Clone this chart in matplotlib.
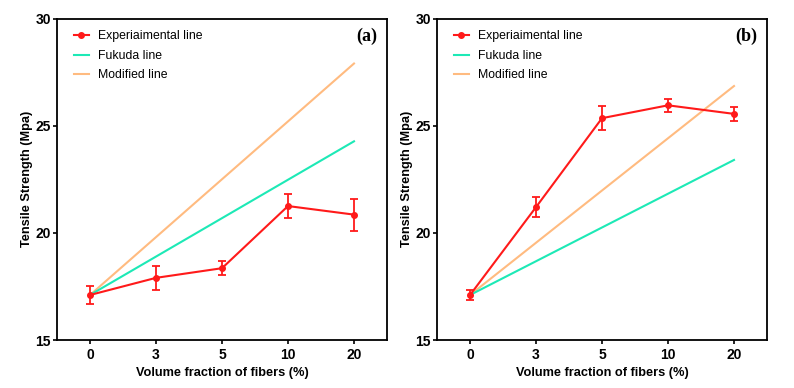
import matplotlib
matplotlib.use("Agg")
import matplotlib.pyplot as plt
from matplotlib.lines import Line2D
import numpy as np

categories = ["0", "3", "5", "10", "20"]

exp_a = [17.1, 17.9, 18.35, 21.25, 20.85]
err_a = [0.4, 0.55, 0.33, 0.55, 0.75]
fukuda_a = [17.1, 24.27]
modified_a = [17.1, 27.9]

exp_b = [17.1, 21.2, 25.35, 25.95, 25.55]
err_b = [0.22, 0.47, 0.57, 0.3, 0.34]
fukuda_b = [17.1, 23.4]
modified_b = [17.1, 26.85]

panel_labels = ["(a)", "(b)"]

RED = "#ff1a1a"
GREEN = "#1de9b6"
ORANGE = "#ffbb80"

plt.rcParams['font.family'] = ['Liberation Sans', 'DejaVu Sans']

fig = plt.figure(figsize=(7.94, 3.88), dpi=100)
axes = [fig.add_axes([0.0718, 0.1237, 0.4156, 0.8286]),
        fig.add_axes([0.5504, 0.1237, 0.4156, 0.8286])]

data = [(exp_a, err_a, fukuda_a, modified_a), (exp_b, err_b, fukuda_b, modified_b)]
x = np.arange(len(categories))
for ax, (exp, err, fk, md), lab in zip(axes, data, panel_labels):
    ends = [x[0], x[-1]]
    ax.plot(ends, md, color=ORANGE, lw=1.5, zorder=2)
    ax.plot(ends, fk, color=GREEN, lw=1.5, zorder=2)
    ax.errorbar(x, exp, yerr=err, color=RED, lw=1.5, marker="o", ms=4,
                capsize=3, capthick=1.3, elinewidth=1.3, zorder=3)
    ax.set_xlim(-0.5, 4.5)
    ax.set_ylim(15, 30)
    ax.set_xticks(x)
    ax.set_xticklabels(categories)
    ax.set_yticks([15, 20, 25, 30])
    for t in ax.get_xticklabels() + ax.get_yticklabels():
        t.set_fontweight("bold")
        t.set_fontsize(10)
    ax.tick_params(direction="out", length=3, width=1.2, pad=3)
    ax.tick_params(axis="y", pad=1.5)
    for s in ax.spines.values():
        s.set_linewidth(1.3)
    ax.set_xlabel("Volume fraction of fibers (%)", fontsize=9.2, fontweight="bold", labelpad=3)
    ax.set_ylabel("Tensile Strength (Mpa)", fontsize=9.2, fontweight="bold")
    ax.yaxis.set_label_coords(-0.072, 0.5)
    handles = [Line2D([], [], color=RED, lw=1.5, marker="o", ms=4),
               Line2D([], [], color=GREEN, lw=1.5),
               Line2D([], [], color=ORANGE, lw=1.5)]
    labels = ["Experiaimental line", "Fukuda line", "Modified line"]
    ax.legend(handles, labels, loc="upper left",
              frameon=False, fontsize=8.8, handlelength=1.25, handletextpad=0.75,
              borderaxespad=0.3, labelspacing=0.62, bbox_to_anchor=(0.025, 0.99))
    ax.text(0.97, 0.972, lab, transform=ax.transAxes, ha="right", va="top",
            fontsize=13, fontweight="bold", family=["Liberation Serif"])

fig.savefig("out.png", dpi=100)
